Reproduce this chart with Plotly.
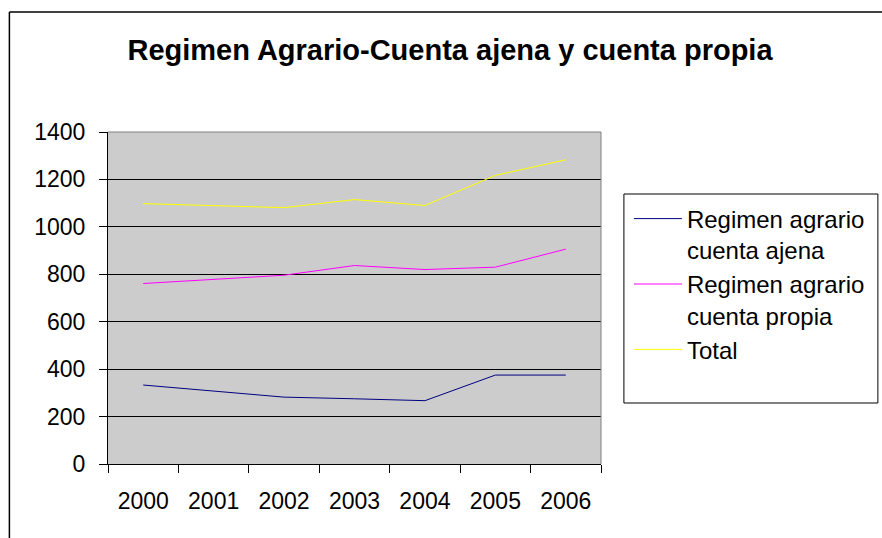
import plotly.graph_objects as go

years = ["2000", "2001", "2002", "2003", "2004", "2005", "2006"]
ajena = [333, 309, 282, 275, 267, 375, 375]
propia = [761, 779, 796, 837, 820, 830, 906]
total = [1098, 1091, 1081, 1115, 1090, 1217, 1283]
series_names = ["Regimen agrario<br>cuenta ajena", "Regimen agrario<br>cuenta propia", "Total"]
series_colors = ["#000080", "#FF00FF", "#FFFF00"]

W, H = 882, 538
L, R, T, B = 108, 603, 132, 464  # plot area in pixels


def px_x(p):
    return (p - L) / (R - L)


def px_y(p):
    return (B - p) / (B - T)


fig = go.Figure()
for name, vals, col in zip(series_names, [ajena, propia, total], series_colors):
    fig.add_trace(go.Scatter(x=years, y=vals, name=name, mode="lines",
                             line=dict(color=col, width=1)))

font = "Liberation Sans, Arial, sans-serif"
fig.update_layout(
    width=W, height=H,
    margin=dict(l=L, r=W - R, t=T, b=H - B, pad=0),
    paper_bgcolor="white",
    plot_bgcolor="#CCCCCC",
    font=dict(family=font, color="black", size=23),
    title=dict(text="<b>Regimen Agrario-Cuenta ajena y cuenta propia</b>",
               font=dict(family=font, size=29, color="black"),
               x=450 / W, xanchor="center", xref="container",
               y=1 - 50 / H, yanchor="middle", yref="container"),
    showlegend=True,
    legend=dict(x=px_x(631), y=px_y(196.5), xanchor="left", yanchor="top",
                bgcolor="rgba(0,0,0,0)", borderwidth=0,
                font=dict(family=font, size=24, color="black"),
                valign="top", itemwidth=48, tracegroupgap=0),
    xaxis=dict(type="category", range=[-0.5, 6.5], tickson="boundaries",
               ticks="outside", ticklen=8, tickcolor="black", tickwidth=1,
               showline=True, linecolor="black", linewidth=1,
               showgrid=False, ticklabelstandoff=16,
               tickfont=dict(size=23), fixedrange=True),
    yaxis=dict(range=[0, 1400], dtick=200, tick0=0,
               ticks="outside", ticklen=8, tickcolor="black", tickwidth=1,
               showline=True, linecolor="black", linewidth=1,
               showgrid=True, gridcolor="black", gridwidth=1,
               zeroline=False, ticklabelstandoff=9,
               tickfont=dict(size=23), fixedrange=True),
    shapes=[
        # plot area frame (top & right in gray)
        dict(type="line", xref="paper", yref="paper", x0=0, x1=1, y0=1, y1=1,
             line=dict(color="#808080", width=1), layer="above"),
        dict(type="line", xref="paper", yref="paper", x0=1, x1=1, y0=0, y1=1,
             line=dict(color="#808080", width=1), layer="above"),
        # legend box
        dict(type="rect", xref="paper", yref="paper",
             x0=px_x(626), x1=px_x(881), y0=px_y(403), y1=px_y(194),
             line=dict(color="black", width=1), fillcolor="white", layer="below"),
        # chart outer border (left & top)
        dict(type="line", xref="paper", yref="paper",
             x0=px_x(9), x1=px_x(9), y0=px_y(560), y1=px_y(12),
             line=dict(color="black", width=1.5)),
        dict(type="line", xref="paper", yref="paper",
             x0=px_x(9), x1=px_x(900), y0=px_y(12), y1=px_y(12),
             line=dict(color="black", width=1.5)),
    ],
)

fig.write_html("out.html", config={"displayModeBar": False},
               post_script="document.body.style.margin='0';document.body.style.overflow='hidden';")
